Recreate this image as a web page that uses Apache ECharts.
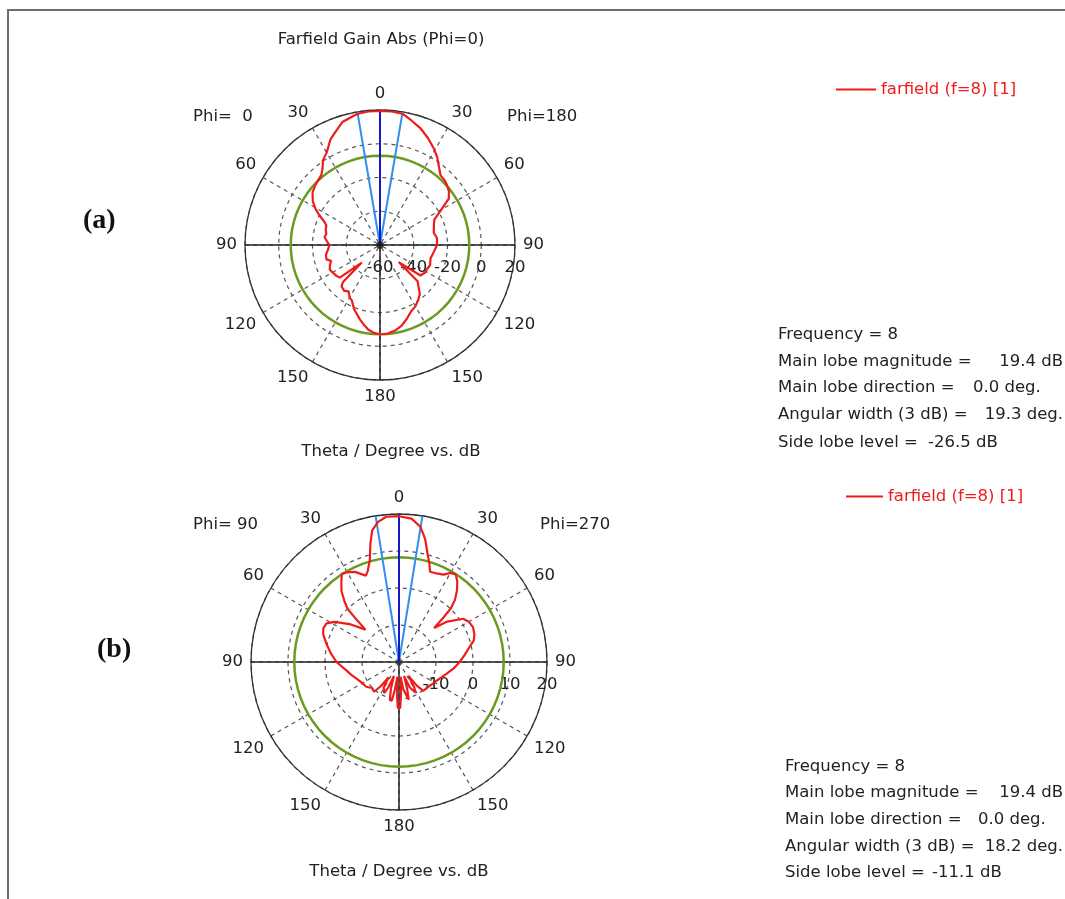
<!DOCTYPE html>
<html>
<head>
<meta charset="utf-8">
<script src="https://cdn.jsdelivr.net/npm/echarts@6/dist/echarts.min.js"></script>
<style>html,body{margin:0;padding:0;background:#fff}#chart{width:1065px;height:899px}</style>
</head>
<body>
<div id="chart"></div>
<script>
// ---------- DATA ----------
// Plot (a): Phi=0 (left half) and Phi=180 (right half), theta in degrees, gain in dB
const thetaA180 = [0,5,10,14,19,24,29,33,36,41,45,48,52,56,61,65,70,77,83,90,97,105,112,117,121,127,132.5,134,137,141,145,150,155,160,165,170,175,180];
const gainA180  = [19.4,19.4,18.8,16.2,13.3,9.6,5.6,2.2,-1.0,-5.3,-5.8,-6.7,-8.2,-10.8,-19.5,-24.5,-26.0,-27.3,-26.0,-26.2,-27.8,-29.0,-28.0,-28.7,-28.6,-30.0,-45.0,-29.0,-26.6,-22.5,-20.5,-18.0,-16.5,-13.5,-10.5,-8.5,-7.3,-7.1];
const thetaA0 = [0,5,10,13,17,21,25,30,34,37,40,44,48,52,57,61,64,67,70,74,78,82,86,90,95,100,105,108,112,116,120,125,129,134,135,137,142,146,150,153,158,162,165,169,172,176,180];
const gainA0  = [19.4,19.4,18.8,17.5,16.2,12.5,9.3,3.2,0.5,-3.4,-5.9,-7.0,-8.0,-9.3,-12.5,-16.5,-20.1,-24.0,-26.2,-26.5,-27.5,-26.8,-28.5,-30.0,-29.1,-27.5,-27.1,-29.5,-28.0,-26.9,-27.5,-28.3,-29.3,-45.0,-29.0,-26.6,-25.5,-26.8,-24.0,-23.2,-19.0,-16.5,-14.2,-11.5,-9.4,-7.8,-7.1];

// Plot (b): Phi=90 (left half) and Phi=270 (right half)
const thetaB270 = [0,5,9,12,15,17,19,23,27,30,33,36,39,42,44,45,46,50,56,60,65,70,74,78,84,90,97,104,110,116,122,128,134,140,143,146,149,151.5,153,154.5,157,160,163,165.5,167,168.5,171,174,176.5,178.5,180];
const gainB270  = [19.4,18.9,17.0,14.0,10.0,8.0,5.8,6.0,6.5,7.8,8.2,6.8,4.9,2.6,0.2,-3.0,-6.8,-3.0,0.9,1.8,2.1,1.7,1.0,-0.5,-2.2,-3.6,-5.2,-6.8,-7.8,-8.6,-9.1,-9.5,-9.7,-9.8,-12.0,-15.5,-12.0,-10.6,-10.4,-10.6,-12.5,-16.0,-12.5,-9.5,-9.2,-9.5,-12.5,-16.0,-11.0,-7.6,-7.4];
const thetaB90 = [0,5,8.5,11.5,13.6,16,19,21,26,30,33,36,39,42,44,45,46,52,58,62,66,70,76,83,90,99,106,111,118,127,134,140,143,146,149,151.5,153,154.5,157,160,163,166.5,168,169.5,171.5,174,176.5,178.5,180];
const gainB90  = [19.4,19.4,18.3,16.3,12.9,8.6,6.0,5.0,7.1,8.0,8.4,6.5,4.7,2.0,0.0,-3.5,-7.4,-3.5,0.5,2.2,2.4,1.8,0.2,-1.5,-3.1,-5.6,-6.8,-7.6,-8.4,-8.9,-9.9,-9.5,-11.8,-15.0,-12.0,-10.7,-10.5,-10.7,-12.5,-16.0,-12.5,-9.4,-9.1,-9.4,-12.5,-16.0,-11.0,-7.6,-7.4];

// Scales (dB) and summary values
const radiusRangeA = [-60, 20];
const radiusStepA = 20;
const radiusRangeB = [-20, 20];
const radiusStepB = 10;
const mainLobeA = 19.4, sideLobeRelA = -26.5, beamWidthA = 19.3;
const mainLobeB = 19.4, sideLobeRelB = -11.1, beamWidthB = 18.2;
const seriesName = 'farfield (f=8) [1]';

const infoLabels = ['Frequency = 8', 'Main lobe magnitude =', 'Main lobe direction =', 'Angular width (3 dB) =', 'Side lobe level ='];
const infoValuesA = ['', '19.4 dB', '0.0 deg.', '19.3 deg.', '-26.5 dB'];
const infoValuesB = ['', '19.4 dB', '0.0 deg.', '18.2 deg.', '-11.1 dB'];

// ---------- BUILD ----------
const FF = '"DejaVu Sans", Verdana, sans-serif';
const FS = 16.5;
const TXT = '#222';
const RED = '#ee1c1c';

function curve(thR, gR, thL, gL) {
  const pts = thR.map((t, i) => [gR[i], t]);
  for (let i = thL.length - 1; i >= 0; i--) pts.push([gL[i], 360 - thL[i]]);
  return pts;
}
function levelCircle(level) {
  const pts = [];
  for (let a = 0; a <= 360; a += 5) pts.push([level, a]);
  return pts;
}

const chart = echarts.init(document.getElementById('chart'), null, {renderer: 'canvas'});

const polarA = {center: [380, 245], radius: 135};
const polarB = {center: [399, 662], radius: 148};

function angleAxis(pi) {
  return {
    polarIndex: pi, type: 'value', min: 0, max: 360, interval: 30, startAngle: 90, clockwise: true,
    axisLine: {show: true, lineStyle: {color: '#333', width: 1.3}},
    axisTick: {show: false},
    axisLabel: {show: true, margin: 8, color: TXT, fontSize: FS, fontFamily: FF,
      formatter: v => v === 360 ? '' : String(v <= 180 ? v : 360 - v)},
    splitLine: {show: true, lineStyle: {color: '#555', type: [4, 4], width: 1.2}}
  };
}
function radiusAxis(pi, range, step) {
  return {
    polarIndex: pi, type: 'value', min: range[0], max: range[1], interval: step,
    axisLine: {show: false}, axisTick: {show: false}, axisLabel: {show: false},
    splitLine: {show: true, lineStyle: {color: '#555', type: [4, 4], width: 1.2}}
  };
}
function labelAngleAxis(pi) {
  return {polarIndex: pi, type: 'value', min: 0, max: 360, startAngle: 0, show: false};
}
function labelRadiusAxis(pi, range, step, hideMin) {
  return {
    polarIndex: pi, type: 'value', min: range[0], max: range[1], interval: step,
    axisLine: {show: false}, axisTick: {show: false}, splitLine: {show: false},
    axisLabel: {show: true, color: TXT, fontSize: FS, fontFamily: FF, margin: -31,
      formatter: v => (hideMin && v === range[0]) ? '' : String(v)}
  };
}

function plotSeries(pi, range, thR, gR, thL, gL, sideLevel, halfBeam) {
  const lo = range[0], hi = range[1];
  const base = {type: 'line', coordinateSystem: 'polar', polarIndex: pi, symbol: 'none', silent: true, animation: false};
  return [
    Object.assign({}, base, {data: [[hi, 90], [lo, 90], [hi, 270]], lineStyle: {color: '#222', width: 1.5}, z: 3}),
    Object.assign({}, base, {data: [[lo, 180], [hi, 180]], lineStyle: {color: '#222', width: 1.5}, z: 3}),
    Object.assign({}, base, {data: levelCircle(sideLevel), lineStyle: {color: '#6b9a22', width: 2.5}, z: 4}),
    Object.assign({}, base, {data: [[lo, halfBeam], [hi, halfBeam]], lineStyle: {color: '#2e8ff0', width: 2}, z: 5}),
    Object.assign({}, base, {data: [[lo, 360 - halfBeam], [hi, 360 - halfBeam]], lineStyle: {color: '#2e8ff0', width: 2}, z: 5}),
    Object.assign({}, base, {data: [[lo, 0], [hi, 0]], lineStyle: {color: '#1717c8', width: 2}, z: 6}),
    Object.assign({}, base, {name: seriesName, data: curve(thR, gR, thL, gL), lineStyle: {color: RED, width: 2.2}, itemStyle: {color: RED}, z: 10})
  ];
}

const series = [].concat(
  plotSeries(0, radiusRangeA, thetaA180, gainA180, thetaA0, gainA0, mainLobeA + sideLobeRelA, beamWidthA / 2),
  plotSeries(2, radiusRangeB, thetaB270, gainB270, thetaB90, gainB90, mainLobeB + sideLobeRelB, beamWidthB / 2),
  [{type: 'scatter', coordinateSystem: 'polar', polarIndex: 0, data: [[radiusRangeA[0], 0]], symbolSize: 7,
    itemStyle: {color: '#111'}, silent: true, z: 12, animation: false}]
);

function txt(x, y, text, opts) {
  opts = opts || {};
  return {type: 'text', x: x, y: y, silent: true, z: 20,
    style: {text: text, fill: opts.fill || TXT, font: opts.font || (FS + 'px ' + FF),
      align: opts.align || 'left', verticalAlign: 'middle'}};
}

const graphic = [
  {type: 'polyline', silent: true, shape: {points: [[8, 1000], [8, 10], [1100, 10]]}, style: {stroke: '#6e6e6e', lineWidth: 2, fill: null}},
  txt(381, 40, 'Farfield Gain Abs (Phi=0)', {align: 'center'}),
  txt(391, 452, 'Theta / Degree vs. dB', {align: 'center'}),
  txt(399, 872, 'Theta / Degree vs. dB', {align: 'center'}),
  txt(193, 117, 'Phi=  0'),
  txt(507, 117, 'Phi=180'),
  txt(193, 525, 'Phi= 90'),
  txt(540, 525, 'Phi=270'),
  txt(83, 221, '(a)', {font: 'bold 28px "Liberation Serif", "Times New Roman", serif', fill: '#111'}),
  txt(97, 650, '(b)', {font: 'bold 28px "Liberation Serif", "Times New Roman", serif', fill: '#111'})
];
const infoYA = [335, 362, 388, 415, 443];
const infoYB = [767, 793, 820, 847, 873];
const valXA = [0, 1063, 973, 1063, 928];
const valXB = [0, 1063, 978, 1063, 932];
infoLabels.forEach((l, i) => {
  graphic.push(txt(778, infoYA[i], l));
  graphic.push(txt(785, infoYB[i], l));
  if (infoValuesA[i]) graphic.push(txt(valXA[i], infoYA[i], infoValuesA[i], {align: (i === 1 || i === 3) ? 'right' : 'left'}));
  if (infoValuesB[i]) graphic.push(txt(valXB[i], infoYB[i], infoValuesB[i], {align: (i === 1 || i === 3) ? 'right' : 'left'}));
});

const legendBase = {data: [seriesName], icon: 'rect', itemHeight: 2, selectedMode: false,
  textStyle: {color: RED, fontSize: FS, fontFamily: FF}};

chart.setOption({
  animation: false,
  backgroundColor: '#fff',
  polar: [polarA, polarA, polarB, polarB],
  angleAxis: [angleAxis(0), labelAngleAxis(1), angleAxis(2), labelAngleAxis(3)],
  radiusAxis: [radiusAxis(0, radiusRangeA, radiusStepA), labelRadiusAxis(1, radiusRangeA, radiusStepA, false),
               radiusAxis(2, radiusRangeB, radiusStepB), labelRadiusAxis(3, radiusRangeB, radiusStepB, true)],
  legend: [Object.assign({}, legendBase, {left: 831, top: 76, itemWidth: 40}),
           Object.assign({}, legendBase, {left: 841, top: 483, itemWidth: 37})],
  series: series,
  graphic: graphic
});
</script>
</body>
</html>
